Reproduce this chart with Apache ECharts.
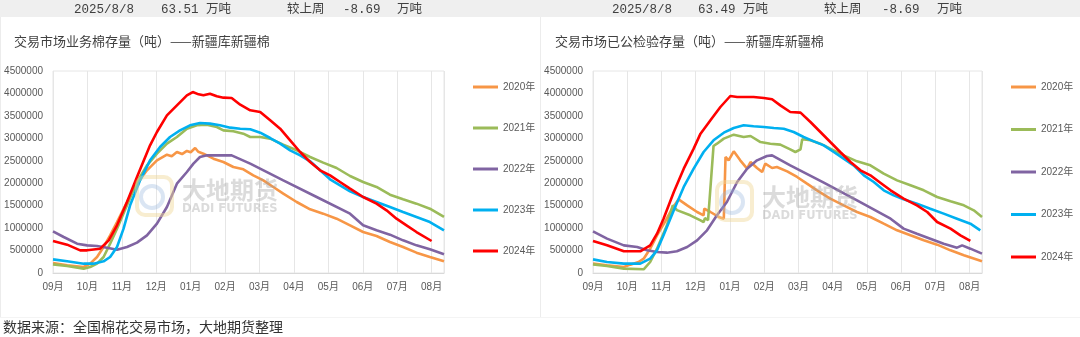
<!DOCTYPE html>
<html>
<head>
<meta charset="utf-8">
<script src="https://cdn.jsdelivr.net/npm/echarts@6/dist/echarts.min.js"></script>
<style>
html,body{margin:0;padding:0;background:#fff;}
#chart{width:1080px;height:337px;}
</style>
</head>
<body>
<div id="chart"></div>
<script>
// ---- tick labels / categories ----
const monthLabels = ['09月','10月','11月','12月','01月','02月','03月','04月','05月','06月','07月','08月'];
const seriesNames = ['2020年','2021年','2022年','2023年','2024年'];
const seriesColors = ['#F79646','#9BBB59','#8064A2','#00B0F0','#FF0000'];
const leftTitle = '交易市场业务棉存量（吨）——新疆库新疆棉';
const rightTitle = '交易市场已公检验存量（吨）——新疆库新疆棉';
const headerLeft = ['2025/8/8','63.51 万吨','较上周','-8.69','万吨'];
const headerRight = ['2025/8/8','63.49 万吨','较上周','-8.69','万吨'];
const sourceText = '数据来源：全国棉花交易市场，大地期货整理';

// ---- data: [months since Sep 1, tons] ----
const left2020 = [[0,223000],[0.41,171000],[0.89,134000],[1.08,208000],[1.28,356000],[1.47,579000],[1.66,839000],[1.86,1136000],[2.15,1582000],[2.44,1990000],[2.73,2287000],[3.02,2510000],[3.31,2636000],[3.45,2600000],[3.60,2696000],[3.75,2650000],[3.89,2720000],[4.0,2690000],[4.13,2785000],[4.22,2700000],[4.37,2658000],[4.66,2547000],[4.95,2473000],[5.24,2361000],[5.53,2309000],[5.82,2176000],[6.11,2064000],[6.40,1916000],[6.69,1767000],[7.08,1582000],[7.47,1418000],[7.85,1322000],[8.24,1210000],[8.63,1062000],[9.01,913000],[9.40,824000],[9.79,691000],[10.17,579000],[10.56,453000],[10.95,356000],[11.36,260000]];
const left2021 = [[0,193000],[0.41,156000],[0.89,97000],[1.08,134000],[1.28,208000],[1.47,356000],[1.66,653000],[1.86,988000],[2.15,1507000],[2.44,2027000],[2.73,2399000],[3.02,2658000],[3.31,2881000],[3.60,3030000],[3.89,3215000],[4.18,3290000],[4.47,3305000],[4.76,3253000],[4.95,3178000],[5.24,3156000],[5.53,3104000],[5.73,3030000],[6.02,3030000],[6.31,2993000],[6.69,2859000],[7.08,2733000],[7.47,2584000],[7.85,2458000],[8.24,2339000],[8.63,2161000],[9.01,2027000],[9.40,1916000],[9.79,1745000],[10.17,1641000],[10.56,1545000],[10.95,1433000],[11.36,1248000]];
const left2022 = [[0,928000],[0.31,802000],[0.70,653000],[0.99,616000],[1.28,601000],[1.57,564000],[1.86,520000],[2.15,579000],[2.44,676000],[2.73,839000],[3.02,1099000],[3.31,1470000],[3.60,1990000],[3.89,2250000],[4.08,2436000],[4.27,2584000],[4.47,2621000],[4.76,2621000],[5.19,2621000],[5.73,2436000],[6.69,2064000],[7.66,1693000],[8.63,1322000],[9.01,1062000],[9.40,951000],[9.79,854000],[10.17,728000],[10.56,616000],[10.95,527000],[11.36,416000]];
const left2023 = [[0,304000],[0.41,260000],[0.89,208000],[1.18,208000],[1.47,260000],[1.66,356000],[1.86,579000],[2.05,988000],[2.24,1507000],[2.53,2064000],[2.82,2510000],[3.11,2807000],[3.40,3030000],[3.69,3178000],[3.98,3290000],[4.27,3342000],[4.56,3327000],[4.85,3290000],[5.15,3238000],[5.44,3215000],[5.73,3201000],[6.02,3126000],[6.31,3007000],[6.60,2881000],[6.89,2733000],[7.18,2621000],[7.47,2488000],[7.76,2287000],[8.05,2087000],[8.34,1953000],[8.63,1819000],[9.01,1693000],[9.40,1582000],[9.79,1470000],[10.17,1359000],[10.56,1248000],[10.95,1136000],[11.36,951000]];
const left2024 = [[0,713000],[0.41,631000],[0.79,505000],[0.99,505000],[1.37,542000],[1.62,728000],[1.86,1062000],[2.15,1582000],[2.44,2139000],[2.82,2844000],[3.02,3141000],[3.31,3512000],[3.60,3735000],[3.89,3958000],[4.06,4032000],[4.23,3980000],[4.37,3958000],[4.56,3995000],[4.76,3936000],[4.95,3906000],[5.19,3899000],[5.44,3750000],[5.73,3624000],[6.02,3587000],[6.31,3401000],[6.60,3215000],[6.89,2956000],[7.18,2696000],[7.47,2473000],[7.76,2287000],[8.05,2176000],[8.34,2027000],[8.63,1879000],[9.01,1693000],[9.40,1545000],[9.69,1396000],[9.98,1210000],[10.27,1062000],[10.56,913000],[11.0,713000]];

const right2020 = [[0,208000],[0.41,171000],[0.90,134000],[1.09,186000],[1.33,245000],[1.48,319000],[1.67,542000],[1.87,839000],[2.11,1151000],[2.31,1433000],[2.50,1641000],[2.75,1507000],[3.04,1359000],[3.23,1285000],[3.25,1433000],[3.43,1359000],[3.67,1248000],[3.82,1210000],[3.87,2584000],[3.96,2510000],[4.11,2710000],[4.30,2510000],[4.50,2324000],[4.60,2473000],[4.79,2339000],[4.94,2250000],[5.03,2436000],[5.23,2339000],[5.37,2361000],[5.67,2265000],[5.96,2139000],[6.25,1990000],[6.54,1842000],[6.93,1656000],[7.32,1507000],[7.71,1359000],[8.10,1248000],[8.49,1099000],[8.88,951000],[9.27,839000],[9.66,728000],[10.05,631000],[10.44,505000],[10.83,394000],[11.36,260000]];
const right2021 = [[0,193000],[0.41,156000],[0.90,97000],[1.48,82000],[1.67,245000],[1.87,542000],[2.16,1062000],[2.33,1507000],[2.45,1400000],[2.84,1285000],[3.14,1173000],[3.23,1136000],[3.27,1220000],[3.36,1180000],[3.52,2830000],[3.62,2881000],[3.82,2993000],[4.11,3082000],[4.40,3030000],[4.60,3052000],[4.89,2918000],[5.18,2881000],[5.47,2859000],[5.76,2755000],[5.91,2696000],[6.06,2755000],[6.11,2978000],[6.35,2956000],[6.64,2881000],[6.93,2770000],[7.32,2621000],[7.71,2488000],[8.10,2399000],[8.49,2213000],[8.88,2064000],[9.27,1953000],[9.66,1842000],[10.05,1693000],[10.44,1597000],[10.83,1507000],[11.12,1396000],[11.36,1248000]];
const right2022 = [[0,928000],[0.41,765000],[0.90,616000],[1.29,579000],[1.58,505000],[1.87,468000],[2.16,453000],[2.45,483000],[2.75,579000],[3.04,728000],[3.33,951000],[3.62,1285000],[3.91,1582000],[4.21,2027000],[4.50,2324000],[4.79,2510000],[5.08,2606000],[5.23,2621000],[5.76,2399000],[6.74,2012000],[7.71,1619000],[8.69,1210000],[9.07,988000],[9.46,876000],[9.85,765000],[10.24,653000],[10.63,564000],[10.78,616000],[11.02,542000],[11.36,431000]];
const right2023 = [[0,304000],[0.41,245000],[0.90,208000],[1.38,208000],[1.67,319000],[1.87,505000],[2.06,839000],[2.36,1396000],[2.65,1916000],[2.94,2324000],[3.23,2696000],[3.52,2956000],[3.82,3126000],[4.11,3230000],[4.40,3290000],[4.69,3268000],[4.99,3253000],[5.28,3230000],[5.57,3215000],[5.86,3141000],[6.15,3030000],[6.45,2933000],[6.74,2844000],[7.03,2696000],[7.32,2547000],[7.61,2399000],[7.91,2176000],[8.20,2027000],[8.49,1842000],[8.78,1730000],[9.07,1641000],[9.46,1545000],[9.85,1433000],[10.24,1322000],[10.63,1210000],[11.02,1099000],[11.31,951000]];
const right2024 = [[0,713000],[0.41,616000],[0.90,483000],[1.38,483000],[1.67,616000],[1.87,876000],[2.06,1210000],[2.36,1805000],[2.65,2324000],[2.94,2770000],[3.14,3104000],[3.43,3401000],[3.72,3698000],[4.01,3943000],[4.21,3921000],[4.40,3921000],[4.69,3921000],[4.99,3899000],[5.23,3869000],[5.47,3735000],[5.76,3587000],[6.06,3572000],[6.35,3364000],[6.64,3141000],[6.93,2918000],[7.22,2696000],[7.52,2473000],[7.81,2287000],[8.10,2176000],[8.39,2012000],[8.69,1842000],[9.07,1656000],[9.46,1507000],[9.76,1359000],[10.05,1136000],[10.44,988000],[10.73,839000],[11.02,713000]];

const leftData = [left2020,left2021,left2022,left2023,left2024];
const rightData = [right2020,right2021,right2022,right2023,right2024];

// ---- build options ----
const axisFont = '"Liberation Sans","Noto Sans CJK SC",sans-serif';
function xAxisOf(gridIndex){
  return {
    type:'value', gridIndex, min:0, max:11.36, interval:1,
    axisLine:{show:true,lineStyle:{color:'#d9d9d9'}},
    axisTick:{show:false},
    splitLine:{show:true,lineStyle:{color:'#e6e6e6',width:1}},
    axisLabel:{fontSize:10,color:'#595959',margin:9,fontFamily:axisFont,
      formatter:v=>{const r=Math.round(v); return (Math.abs(v-r)<1e-6 && r<12)?monthLabels[r]:'';}}
  };
}
function yAxisOf(gridIndex){
  return {
    type:'value', gridIndex, min:0, max:4500000, interval:500000,
    axisLine:{show:false}, axisTick:{show:false}, splitLine:{show:false},
    axisLabel:{fontSize:10,color:'#595959',margin:10,fontFamily:axisFont,formatter:v=>String(v)}
  };
}
const series = [];
[leftData,rightData].forEach((set,gi)=>{
  set.forEach((d,i)=>{
    series.push({
      type:'line', name:seriesNames[i], xAxisIndex:gi, yAxisIndex:gi, data:d,
      showSymbol:false, symbol:'none', color:seriesColors[i],
      lineStyle:{width:2.6,color:seriesColors[i]},
      emphasis:{disabled:true}, z:2+i
    });
  });
});
function legendOf(left,gap){
  return {
    left, top:80, orient:'vertical', icon:'rect', itemWidth:25, itemHeight:3, itemGap:gap,
    padding:0, selectedMode:false,
    textStyle:{fontSize:10,color:'#595959',lineHeight:14,fontFamily:axisFont},
    data:seriesNames
  };
}
const hdrFont = '12.5px "Liberation Mono","Noto Sans CJK SC",monospace';
const hdrX = [[74,161,287,343,397],[612,698,824,882,937]];
const graphics = [
  {type:'rect',shape:{x:0,y:0,width:1080,height:17},style:{fill:'#efefef'},z:0,silent:true},
  {type:'line',shape:{x1:0.5,y1:17,x2:0.5,y2:317},style:{stroke:'#ececec',lineWidth:1},silent:true},
  {type:'line',shape:{x1:540.5,y1:17,x2:540.5,y2:317},style:{stroke:'#ececec',lineWidth:1},silent:true},
  {type:'line',shape:{x1:0,y1:317.5,x2:1080,y2:317.5},style:{stroke:'#f4f4f4',lineWidth:1},silent:true}
];
[headerLeft,headerRight].forEach((arr,k)=>{
  arr.forEach((t,j)=>{
    graphics.push({type:'text',x:hdrX[k][j],y:10,silent:true,
      style:{text:t,font:hdrFont,fill:'#404040',verticalAlign:'middle'}});
  });
});
graphics.push({type:'text',x:3,y:327,silent:true,
  style:{text:sourceText,font:'14px "Noto Sans CJK SC",sans-serif',fill:'#333333',verticalAlign:'middle'}});
// watermarks
function watermark(lx,ly,tx,ty){
  return [
    {type:'rect',shape:{x:lx,y:ly,width:35,height:38,r:8},style:{fill:'none',stroke:'rgba(240,215,150,0.45)',lineWidth:4},z:50,silent:true},
    {type:'circle',shape:{cx:lx+15,cy:ly+20,r:11},style:{fill:'none',stroke:'rgba(150,180,220,0.35)',lineWidth:4},z:50,silent:true},
    {type:'text',x:tx,y:ty,z:50,silent:true,style:{text:'大地期货',font:'bold 24px "Noto Sans CJK SC",sans-serif',fill:'rgba(160,160,160,0.38)',verticalAlign:'middle'}},
    {type:'text',x:tx,y:ty+19,z:50,silent:true,style:{text:'DADI FUTURES',font:'bold 11.5px "DejaVu Sans",sans-serif',fill:'rgba(160,160,160,0.38)',verticalAlign:'middle'}}
  ];
}
graphics.push(...watermark(137,177,182,190));
graphics.push(...watermark(717,182,762,197));

const option = {
  animation:false,
  textStyle:{fontFamily:axisFont},
  title:[
    {text:leftTitle,left:14,top:35,padding:0,textStyle:{fontSize:13,fontWeight:'normal',color:'#404040',fontFamily:'"Noto Sans CJK SC",sans-serif'}},
    {text:rightTitle,left:555,top:35,padding:0,textStyle:{fontSize:13,fontWeight:'normal',color:'#404040',fontFamily:'"Noto Sans CJK SC",sans-serif'}}
  ],
  legend:[legendOf(473,27),legendOf(1011,28.5)],
  grid:[
    {left:53,top:71,width:391,height:202,show:true,borderColor:'#e6e6e6',borderWidth:1},
    {left:593,top:71,width:389,height:202,show:true,borderColor:'#e6e6e6',borderWidth:1}
  ],
  xAxis:[xAxisOf(0),xAxisOf(1)],
  yAxis:[yAxisOf(0),yAxisOf(1)],
  series,
  graphic:{elements:graphics}
};
const chart = echarts.init(document.getElementById('chart'),null,{renderer:'canvas'});
chart.setOption(option);
</script>
</body>
</html>
